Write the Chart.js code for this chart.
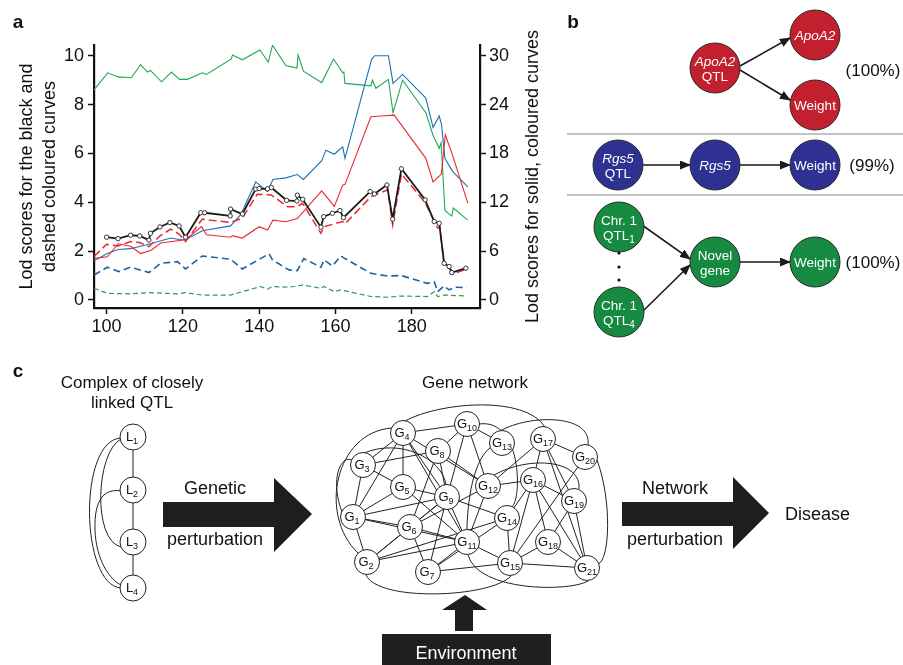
<!DOCTYPE html>
<html>
<head>
<meta charset="utf-8">
<script src="https://cdn.jsdelivr.net/npm/chart.js@4.4.1/dist/chart.umd.min.js"></script>
<style>
  body { margin: 0; background: #fff; }
  #wrap { position: relative; width: 903px; height: 665px; overflow: hidden; font-family: "Liberation Sans", Arial, sans-serif; }
  #chartBox { position: absolute; left: 0; top: 0; width: 560px; height: 340px; }
  #diagram { position: absolute; left: 0; top: 0; }
</style>
</head>
<body>
<div id="wrap">
  <div id="chartBox"><canvas id="lodChart"></canvas></div>
  <svg id="diagram" width="903" height="665" xmlns="http://www.w3.org/2000/svg"></svg>
</div>
<script>
// ---- panel a data (marker position in cM, lod scores) ----
const xTicks = [100, 120, 140, 160, 180];
const leftTicks = [0, 2, 4, 6, 8, 10];
const rightTicks = [0, 6, 12, 18, 24, 30];

// black curve with open circles (left axis)
const blackX = [100, 103, 106.3, 108.7, 111.1, 111.5, 114, 116.6, 119, 120.7, 124.7, 125.7, 132.4, 132.5, 135.6, 139.1, 140, 142.2, 143.2, 147.2, 149.9, 150, 151.4, 156.2, 156.9, 159.2, 161.2, 162.1, 169.1, 170.2, 173.5, 175, 177.3, 183.5, 185.9, 187.2, 188.5, 189.8, 190.5, 194.2];
const blackY = [2.57, 2.51, 2.65, 2.62, 2.45, 2.73, 2.99, 3.17, 3.03, 2.57, 3.57, 3.57, 3.44, 3.72, 3.52, 4.54, 4.56, 4.55, 4.6, 4.08, 4.05, 4.29, 4.12, 2.98, 3.41, 3.55, 3.66, 3.37, 4.44, 4.34, 4.71, 3.31, 5.37, 4.1, 3.21, 3.14, 1.5, 1.37, 1.12, 1.3];

// dashed curves (left axis)
const redDashX = [96.7, 100, 103, 106.3, 108.7, 111.1, 114, 116.8, 119, 120.7, 125.1, 132.4, 135.6, 139.5, 143.2, 147.4, 149.9, 151.4, 156.2, 157, 161.9, 162.5, 169.3, 173.7, 175, 177.3, 183.5, 186.8, 187.4, 188.5, 190.3, 191, 194.5];
const redDashY = [1.78, 2.28, 2.21, 2.39, 2.35, 2.18, 2.62, 2.9, 2.7, 2.39, 3.31, 3.17, 3.35, 4.33, 4.3, 3.82, 3.82, 3.96, 2.73, 3.0, 3.21, 3.11, 4.23, 4.51, 3.07, 5.16, 3.99, 2.94, 2.98, 1.43, 1.23, 1.07, 1.27];
const blueDashX = [96.7, 100.2, 103.2, 106.3, 111.1, 114.2, 118.6, 120.7, 125.1, 132.5, 135.6, 142.6, 143.5, 147.8, 150, 151.7, 156.2, 157, 159.2, 161.4, 162.3, 169.3, 173.7, 177.2, 184.1, 185.9, 186.8, 188.5, 189.8, 191.2, 194.5];
const blueDashY = [1.02, 1.34, 1.16, 1.34, 1.12, 1.5, 1.57, 1.27, 1.8, 1.67, 1.27, 1.89, 1.64, 1.23, 1.2, 1.69, 1.34, 1.64, 1.39, 1.8, 1.71, 1.09, 0.98, 1.0, 0.68, 0.75, 0.34, 0.57, 0.41, 0.52, 0.5];
const greenDashX = [96.7, 100.2, 106.3, 111.1, 118.6, 120.7, 125.1, 132.5, 140.4, 142.2, 143.5, 147.8, 151.4, 156.2, 157, 159.7, 161.4, 169.3, 173.7, 177.2, 184.1, 185.9, 186.8, 188.5, 194.5];
const greenDashY = [0.48, 0.27, 0.25, 0.3, 0.25, 0.3, 0.2, 0.2, 0.55, 0.44, 0.55, 0.52, 0.61, 0.48, 0.55, 0.34, 0.41, 0.14, 0.11, 0.16, 0.14, 0.34, 0.14, 0.2, 0.16];

// solid curves (right axis)
const greenX = [96.7, 100.3, 103, 106.5, 108.9, 110.7, 111.5, 114.4, 117, 119.1, 121.2, 125.1, 126.2, 132.7, 133, 135.6, 140.2, 142.4, 143.5, 147, 149.9, 150.2, 151.6, 156.4, 159.5, 161.9, 162.2, 162.5, 169.3, 169.7, 170.6, 173.9, 175.1, 177.6, 183.7, 185.6, 187.2, 187.7, 188.7, 190.5, 190.9, 194.7];
const greenY = [25.8, 27.9, 27.4, 27.3, 28.9, 28.0, 28.2, 26.8, 28.0, 27.1, 27.1, 27.9, 27.7, 29.6, 30.1, 29.5, 30.7, 29.2, 31.3, 28.8, 28.5, 30.1, 28.1, 26.7, 29.6, 27.9, 28.0, 26.6, 26.3, 27.0, 26.0, 27.1, 23.0, 27.0, 23.0, 20.2, 18.6, 19.3, 11.0, 10.3, 11.3, 9.8];
const blueX = [96.7, 100.2, 103, 106.3, 111.5, 116.8, 119.4, 120.7, 125.1, 132.5, 135.2, 139.1, 142.2, 143.6, 147, 150, 151.6, 156.4, 157.5, 159.7, 161.9, 162.5, 169.5, 170.3, 173.9, 175.1, 177.6, 183.7, 185.6, 187.2, 187.8, 188.7, 190.7, 194.7];
const blueY = [4.8, 5.7, 6.2, 6.3, 6.9, 7.6, 7.4, 7.4, 8.5, 9.1, 10.5, 14.5, 13.3, 14.8, 15.0, 15.4, 14.8, 17.1, 18.4, 17.9, 18.8, 17.4, 29.6, 30.0, 30.0, 26.6, 27.7, 24.8, 21.2, 22.6, 21.6, 17.4, 15.8, 13.9];
const redX = [96.7, 100.2, 103, 106.3, 108.9, 111.7, 114.2, 120.7, 124.9, 126.2, 132.5, 133, 135.6, 140, 142.2, 143.6, 147, 150, 156.4, 159.7, 161.9, 162.5, 169.3, 171.9, 175.4, 183.7, 185.6, 187.2, 187.8, 188.8, 190.7, 194.7];
const redY = [5.1, 5.3, 6.9, 6.6, 5.7, 6.1, 7.0, 7.4, 9.0, 8.0, 7.7, 7.9, 7.6, 9.0, 8.6, 9.8, 9.6, 10.0, 13.4, 11.5, 14.1, 14.2, 22.5, 22.6, 22.7, 17.4, 14.5, 15.2, 15.5, 20.3, 17.8, 11.9];

const FONT = '"Liberation Sans", Arial, sans-serif';

function pts(xs, ys) {
  return xs.map((x, i) => ({ x: x, y: ys[i] }));
}

function line(data, color, axis, width, dash) {
  return {
    data: data,
    yAxisID: axis,
    borderColor: color,
    borderWidth: width,
    borderDash: dash || [],
    pointRadius: 0,
    tension: 0,
    fill: false
  };
}

const rightTitle = {
  id: 'rightTitle',
  afterDraw(chart) {
    const s = chart.scales.y1;
    const ctx = chart.ctx;
    ctx.save();
    ctx.translate(533, (s.top + s.bottom) / 2);
    ctx.rotate(-Math.PI / 2);
    ctx.font = '18px ' + FONT;
    ctx.fillStyle = '#111';
    ctx.textAlign = 'center';
    ctx.textBaseline = 'middle';
    ctx.fillText('Lod scores for solid, coloured curves', 0, 0);
    ctx.restore();
  }
};

function fixedTicks(list) {
  return scale => { scale.ticks = list.map(v => ({ value: v })); };
}

const axisStyle = {
  border: { display: true, color: '#111', width: 2.2 },
  grid: { drawOnChartArea: false, drawTicks: true, tickLength: 6, tickWidth: 1.5, tickColor: '#111' },
  ticks: { color: '#111', font: { family: FONT, size: 18 } }
};

new Chart(document.getElementById('lodChart'), {
  type: 'line',
  data: {
    datasets: [
      Object.assign(line(pts(blackX, blackY), '#1a1a1a', 'y', 1.8), {
        pointRadius: 2.2, pointBackgroundColor: '#fff', pointBorderColor: '#333', pointBorderWidth: 1
      }),
      line(pts(redDashX, redDashY), '#ec2730', 'y', 1.5, [8, 4]),
      line(pts(blueDashX, blueDashY), '#1d63a6', 'y', 1.6, [7, 4]),
      line(pts(greenDashX, greenDashY), '#2e9a5a', 'y', 1.2, [5, 3]),
      line(pts(redX, redY), '#ec2730', 'y1', 1.1),
      line(pts(blueX, blueY), '#1f72b0', 'y1', 1.1),
      line(pts(greenX, greenY), '#1fa855', 'y1', 1.1)
    ]
  },
  options: {
    responsive: true,
    maintainAspectRatio: false,
    animation: false,
    layout: { padding: { top: 45, left: 0, right: 0, bottom: 0 } },
    plugins: { legend: { display: false }, tooltip: { enabled: false } },
    scales: {
      x: {
        type: 'linear', min: 96.7, max: 197.9,
        afterBuildTicks: fixedTicks(xTicks),
        afterFit: s => { s.height = 32; },
        border: axisStyle.border, grid: axisStyle.grid,
        ticks: Object.assign({ padding: 2 }, axisStyle.ticks)
      },
      y: {
        position: 'left', min: -0.33, max: 10.44,
        afterBuildTicks: fixedTicks(leftTicks),
        afterFit: s => { s.width = 94; },
        border: axisStyle.border, grid: axisStyle.grid,
        ticks: Object.assign({ padding: 4 }, axisStyle.ticks),
        title: {
          display: true,
          text: ['Lod scores for the black and', 'dashed coloured curves'],
          color: '#111',
          font: { family: FONT, size: 18, lineHeight: 1.3 },
          padding: { top: 15 }
        }
      },
      y1: {
        position: 'right', min: -0.99, max: 31.32,
        afterBuildTicks: fixedTicks(rightTicks),
        afterFit: s => { s.width = 80; },
        border: axisStyle.border, grid: axisStyle.grid,
        ticks: Object.assign({ padding: 3 }, axisStyle.ticks)
      }
    }
  },
  plugins: [rightTitle]
});

// ---- panels b and c (diagrams) ----
const svg = document.getElementById('diagram');
const NS = 'http://www.w3.org/2000/svg';
function el(tag, attrs, parent) {
  const e = document.createElementNS(NS, tag);
  for (const k in attrs) e.setAttribute(k, attrs[k]);
  (parent || svg).appendChild(e);
  return e;
}
function text(x, y, str, attrs) {
  const t = el('text', Object.assign({ x: x, y: y, 'font-family': FONT, 'font-size': 17, 'text-anchor': 'middle', fill: '#111' }, attrs || {}));
  t.textContent = str;
  return t;
}
function subText(x, y, main, sub, size, subSize) {
  const t = el('text', { x: x, y: y, 'font-family': FONT, 'font-size': size, 'text-anchor': 'middle', fill: '#111' });
  const a = el('tspan', {}, t); a.textContent = main;
  const b = el('tspan', { 'font-size': subSize, dy: 3 }, t); b.textContent = sub;
  return t;
}

const defs = el('defs', {});
const mk = el('marker', { id: 'ah', markerWidth: 11, markerHeight: 9, refX: 10, refY: 4.5, orient: 'auto', markerUnits: 'userSpaceOnUse' }, defs);
el('path', { d: 'M0,0 L11,4.5 L0,9 Z', fill: '#1a1a1a' }, mk);

// panel labels
text(18, 28, 'a', { 'font-weight': 'bold', 'font-size': 19 });
text(573, 28, 'b', { 'font-weight': 'bold', 'font-size': 19 });
text(18, 377, 'c', { 'font-weight': 'bold', 'font-size': 19 });

// panel b
const RED = '#c3202f', BLUE = '#2e3192', GREEN = '#158a40';
function node(cx, cy, fill, lines) {
  el('circle', { cx: cx, cy: cy, r: 25, fill: fill, stroke: '#2a2a2a', 'stroke-width': 1 });
  const n = lines.length;
  lines.forEach((ln, i) => {
    const y = cy + 5 + (i - (n - 1) / 2) * 15;
    const t = el('text', { x: cx, y: y, 'font-family': FONT, 'font-size': 13.5, 'text-anchor': 'middle', fill: '#fff', 'font-style': ln.it ? 'italic' : 'normal' });
    const a = el('tspan', {}, t); a.textContent = ln.t;
    if (ln.sub) { const b = el('tspan', { 'font-size': 10, dy: 3 }, t); b.textContent = ln.sub; }
  });
}
function arrow(x1, y1, x2, y2) {
  el('line', { x1: x1, y1: y1, x2: x2, y2: y2, stroke: '#1a1a1a', 'stroke-width': 1.6, 'marker-end': 'url(#ah)' });
}
arrow(740, 66, 790, 38);
arrow(740, 70, 790, 100);
node(715, 68, RED, [{ t: 'ApoA2', it: true }, { t: 'QTL' }]);
node(815, 35, RED, [{ t: 'ApoA2', it: true }]);
node(815, 105, RED, [{ t: 'Weight' }]);
text(873, 76, '(100%)', { 'font-size': 17 });
el('line', { x1: 567, y1: 134, x2: 903, y2: 134, stroke: '#8a8a8a', 'stroke-width': 1.2 });

arrow(643, 165, 690, 165);
arrow(740, 165, 790, 165);
node(618, 165, BLUE, [{ t: 'Rgs5', it: true }, { t: 'QTL' }]);
node(715, 165, BLUE, [{ t: 'Rgs5', it: true }]);
node(815, 165, BLUE, [{ t: 'Weight' }]);
text(872, 171, '(99%)', { 'font-size': 17 });
el('line', { x1: 567, y1: 195, x2: 903, y2: 195, stroke: '#8a8a8a', 'stroke-width': 1.2 });

arrow(642, 225, 690, 259);
arrow(642, 312, 690, 265);
arrow(740, 262, 790, 262);
node(619, 227, GREEN, [{ t: 'Chr. 1' }, { t: 'QTL', sub: '1' }]);
node(619, 312, GREEN, [{ t: 'Chr. 1' }, { t: 'QTL', sub: '4' }]);
node(715, 262, GREEN, [{ t: 'Novel' }, { t: 'gene' }]);
node(815, 262, GREEN, [{ t: 'Weight' }]);
[253, 267, 280].forEach(y => el('circle', { cx: 619, cy: y, r: 1.6, fill: '#111' }));
text(873, 268, '(100%)', { 'font-size': 17 });

// panel c : linked QTL
text(132, 388, 'Complex of closely');
text(132, 408, 'linked QTL');
const L = [[133, 437], [133, 490], [133, 542], [133, 588]];
const lineAttr = { stroke: '#222', 'stroke-width': 1, fill: 'none' };
el('line', Object.assign({ x1: 133, y1: 437, x2: 133, y2: 588 }, lineAttr));
el('path', Object.assign({ d: 'M121,438 C78,440 80,585 121,588' }, lineAttr));
el('path', Object.assign({ d: 'M121,439 C96,452 92,540 121,547' }, lineAttr));
el('path', Object.assign({ d: 'M121,491 C104,488 94,500 95,530 C96,560 110,580 121,585' }, lineAttr));
L.forEach((p, i) => {
  el('circle', { cx: p[0], cy: p[1], r: 13, fill: '#fff', stroke: '#222', 'stroke-width': 1 });
  subText(p[0] - 1, p[1] + 4, 'L', String(i + 1), 13, 9);
});

// big arrows
const ARW = '#1e1e1e';
el('polygon', { points: '163,502 274,502 274,478 312,514 274,552 274,527 163,527', fill: ARW });
text(215, 494, 'Genetic', { 'font-size': 18 });
text(215, 545, 'perturbation', { 'font-size': 18 });
el('polygon', { points: '622,502 733,502 733,477 769,513 733,549 733,526 622,526', fill: ARW });
text(675, 494, 'Network', { 'font-size': 18 });
text(675, 545, 'perturbation', { 'font-size': 18 });
text(785, 520, 'Disease', { 'font-size': 18, 'text-anchor': 'start' });

// environment
el('polygon', { points: '455,631 455,610 442,610 465,595 487,610 473,610 473,631', fill: ARW });
el('rect', { x: 382, y: 634, width: 169, height: 40, fill: '#1f1f1f' });
text(466, 659, 'Environment', { 'font-size': 18, fill: '#fff' });

// gene network
text(475, 388, 'Gene network');
const G = {
  1: [353, 517], 2: [367, 562], 3: [363, 465], 4: [403, 433], 5: [403, 487], 6: [410, 527], 7: [428, 572],
  8: [438, 451], 9: [447, 497], 10: [467, 424], 11: [467, 542], 12: [488, 486], 13: [502, 443], 14: [507, 518],
  15: [510, 563], 16: [533, 480], 17: [543, 439], 18: [548, 542], 19: [574, 501], 20: [585, 457], 21: [587, 568]
};
const edges = [
  [4, 10], [4, 3], [4, 5], [4, 1], [4, 9], [4, 11], [4, 12], [3, 8], [3, 5], [3, 1], [8, 6], [8, 9], [8, 12], [8, 10],
  [5, 9], [5, 1], [5, 11], [1, 9], [1, 6], [1, 2], [1, 11], [6, 9], [6, 2], [6, 7], [6, 11], [6, 12], [9, 7], [9, 10],
  [9, 14], [9, 11], [2, 11], [2, 14], [2, 9], [7, 11], [7, 14], [7, 15], [10, 13], [10, 12], [12, 17], [12, 16], [12, 11],
  [17, 20], [17, 16], [17, 19], [17, 21], [16, 19], [16, 15], [16, 18], [16, 21], [20, 15], [19, 18], [19, 21], [14, 15],
  [11, 15], [15, 18], [15, 21], [18, 21], [14, 16]
];
edges.forEach(e => {
  const a = G[e[0]], b = G[e[1]];
  el('line', Object.assign({ x1: a[0], y1: a[1], x2: b[0], y2: b[1] }, lineAttr));
});
const curves = [
  'M392,428 C335,432 318,515 358,553',
  'M405,421 C440,402 525,395 545,427',
  'M500,431 C530,414 592,414 588,445',
  'M597,460 C612,500 610,560 598,564',
  'M366,575 C378,602 490,598 511,576',
  'M468,555 C478,592 570,592 588,581',
  'M479,424 C522,418 522,498 512,507',
  'M494,475 C530,455 582,460 579,489',
  'M364,453 C400,438 442,458 446,485',
  'M491,447 C470,462 467,515 467,530',
  'M342,512 C330,480 340,455 352,460'
];
curves.forEach(d => el('path', Object.assign({ d: d }, lineAttr)));
for (const k in G) {
  const p = G[k];
  el('circle', { cx: p[0], cy: p[1], r: 12.5, fill: '#fff', stroke: '#222', 'stroke-width': 1 });
  subText(p[0] - (k > 9 ? 0 : 1), p[1] + 4, 'G', k, 13, 9);
}
</script>
</body>
</html>
